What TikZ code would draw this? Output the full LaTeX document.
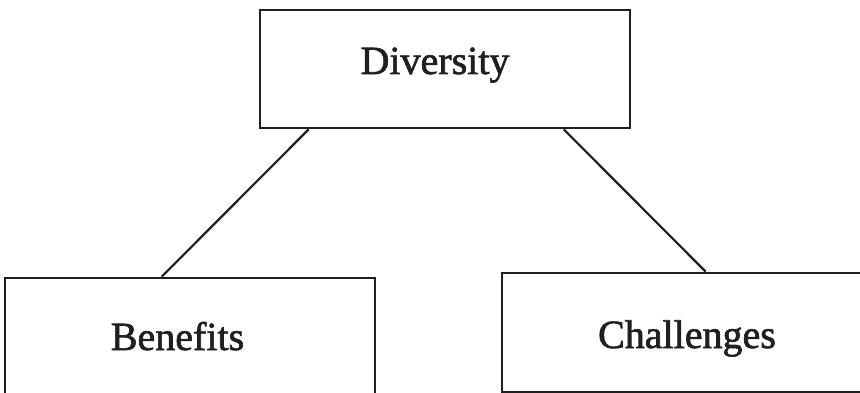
\documentclass[tikz,border=0pt]{standalone}
\usepackage{fontspec}
\setmainfont{Liberation Serif}
\newfontfamily\lblfont[FakeBold=1.6]{Liberation Serif}
\usetikzlibrary{calc}
\begin{document}
\begin{tikzpicture}[x=1pt,y=-1pt,
  box/.style={draw=black!88,line width=2.6pt,inner sep=0pt,minimum width=370pt},
  lbl/.style={font=\lblfont\fontsize{40}{48}\selectfont,anchor=base,inner sep=0pt,text=black!88},
  conn/.style={draw=black!88,line width=2.2pt}]
\useasboundingbox (0,0) rectangle (860,393);
\clip (0,0) rectangle (860,393);
\node[box,minimum height=118pt] (div) at (445,69) {};
\node[box,minimum height=132pt] (ben) at (190,344) {};
\node[box,minimum height=119pt] (chal) at (687,332.5) {};
\node[lbl] (divt) at (435,74) {Diversity};
\node[lbl] (bent) at (177.5,350) {Benefits};
\node[lbl] (chalt) at (687,348) {Challenges};
\draw[conn] ($(div.south west)+(50,0)$) -- ($(ben.north west)+(158,0)$);
\draw[conn] ($(div.south west)+(305,0)$) -- ($(chal.north west)+(205,0)$);
\end{tikzpicture}
\end{document}
